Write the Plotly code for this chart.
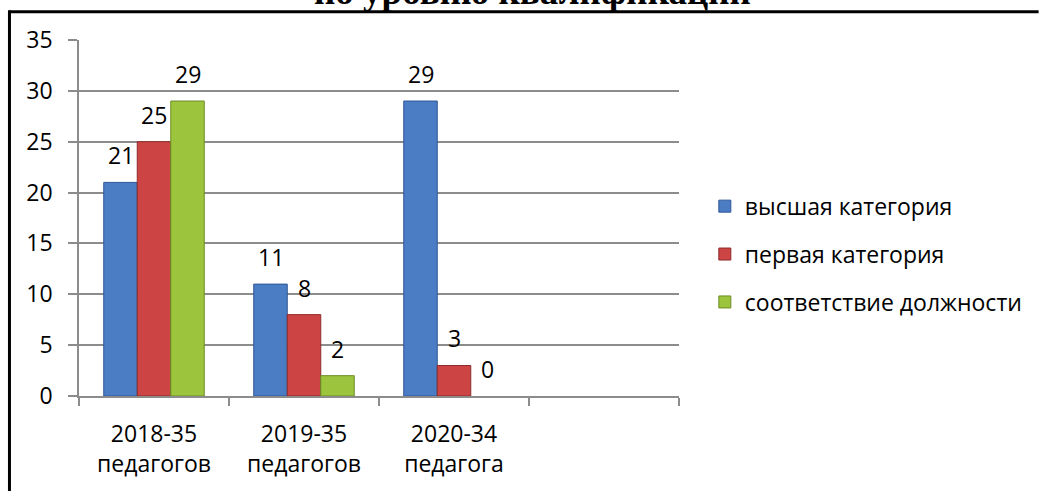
import plotly.graph_objects as go

categories = ["2018-35<br>педагогов", "2019-35<br>педагогов", "2020-34<br>педагога", " "]
series_names = ["высшая категория", "первая категория", "соответствие должности"]
highest = [21, 11, 29]
first = [25, 8, 3]
conformity = [29, 2, 0]
y_ticks = [0, 5, 10, 15, 20, 25, 30, 35]
title_text = "по уровню квалификации"

values = [highest, first, conformity]
fills = ["#4a7dc4", "#cc4444", "#9cc43c"]
lines = ["#2f5597", "#8e2b2a", "#6d8c27"]

W, H = 1039, 491
L, R, T, B = 79, 356, 40, 92
pw, ph = W - L - R, H - T - B
bargap = 0.33
FONT = "Open Sans"
FS = 23

def px_x(p):
    return (p - L) / pw

def px_y(p):
    return (H - B - p) / ph

fig = go.Figure()
for name, vals, fc, lc in zip(series_names, values, fills, lines):
    fig.add_trace(go.Bar(
        name=name, x=categories[:len(vals)], y=vals,
        marker=dict(color=fc, line=dict(color=lc, width=[1 if v else 0 for v in vals])),
        legendgroup=name,
    ))

annotations = []
w = (1 - bargap) / len(values)
for j, vals in enumerate(values):
    for i, v in enumerate(vals):
        annotations.append(dict(
            x=i + (j - (len(values) - 1) / 2) * w, y=v, xref="x", yref="y",
            text=str(v), showarrow=False, yshift=27,
            font=dict(family=FONT, size=FS, color="black"),
        ))

annotations.append(dict(
    x=px_x(536), y=px_y(14), xref="paper", yref="paper",
    text="<b>" + title_text + "</b>", showarrow=False,
    xanchor="center", yanchor="bottom",
    font=dict(family="Liberation Serif", size=37, color="black"),
))

shapes = [
    dict(type="line", xref="paper", yref="paper",
         x0=px_x(9), x1=px_x(1045), y0=px_y(11.5), y1=px_y(11.5),
         line=dict(color="black", width=3)),
    dict(type="line", xref="paper", yref="paper",
         x0=px_x(9), x1=px_x(9), y0=px_y(10), y1=px_y(500),
         line=dict(color="black", width=3)),
]

fig.update_layout(
    width=W, height=H,
    margin=dict(l=L, r=R, t=T, b=B),
    paper_bgcolor="white", plot_bgcolor="white",
    barmode="group", bargap=bargap, bargroupgap=0,
    font=dict(family=FONT, size=FS, color="black"),
    showlegend=True,
    legend=dict(
        x=px_x(709), y=px_y(256), xanchor="left", yanchor="middle",
        traceorder="grouped", tracegroupgap=15,
        font=dict(family=FONT, size=FS, color="black"),
        bgcolor="rgba(0,0,0,0)",
    ),
    annotations=annotations,
    shapes=shapes,
)
fig.update_xaxes(
    type="category", categoryorder="array", categoryarray=categories,
    tickvals=categories, ticktext=categories,
    range=[-0.5, len(categories) - 0.5],
    showline=True, linecolor="#8c8c8c", linewidth=1.5,
    ticks="outside", tickson="boundaries", ticklen=8, tickcolor="#8c8c8c", tickwidth=1.5,
    ticklabelstandoff=17, showgrid=False,
    tickfont=dict(family=FONT, size=FS, color="black"),
)
fig.update_yaxes(
    range=[0, 35], tickvals=y_ticks,
    showline=True, linecolor="#8c8c8c", linewidth=1.5,
    ticks="outside", ticklen=9, tickcolor="#8c8c8c", tickwidth=1.5,
    showgrid=True, gridcolor="#8c8c8c", gridwidth=1.5,
    zeroline=False, ticklabelstandoff=11,
    tickfont=dict(family=FONT, size=FS, color="black"),
)

fig.write_html(
    "out.html",
    config={"displayModeBar": False},
    post_script="document.body.style.margin='0';document.body.style.overflow='hidden';",
)
